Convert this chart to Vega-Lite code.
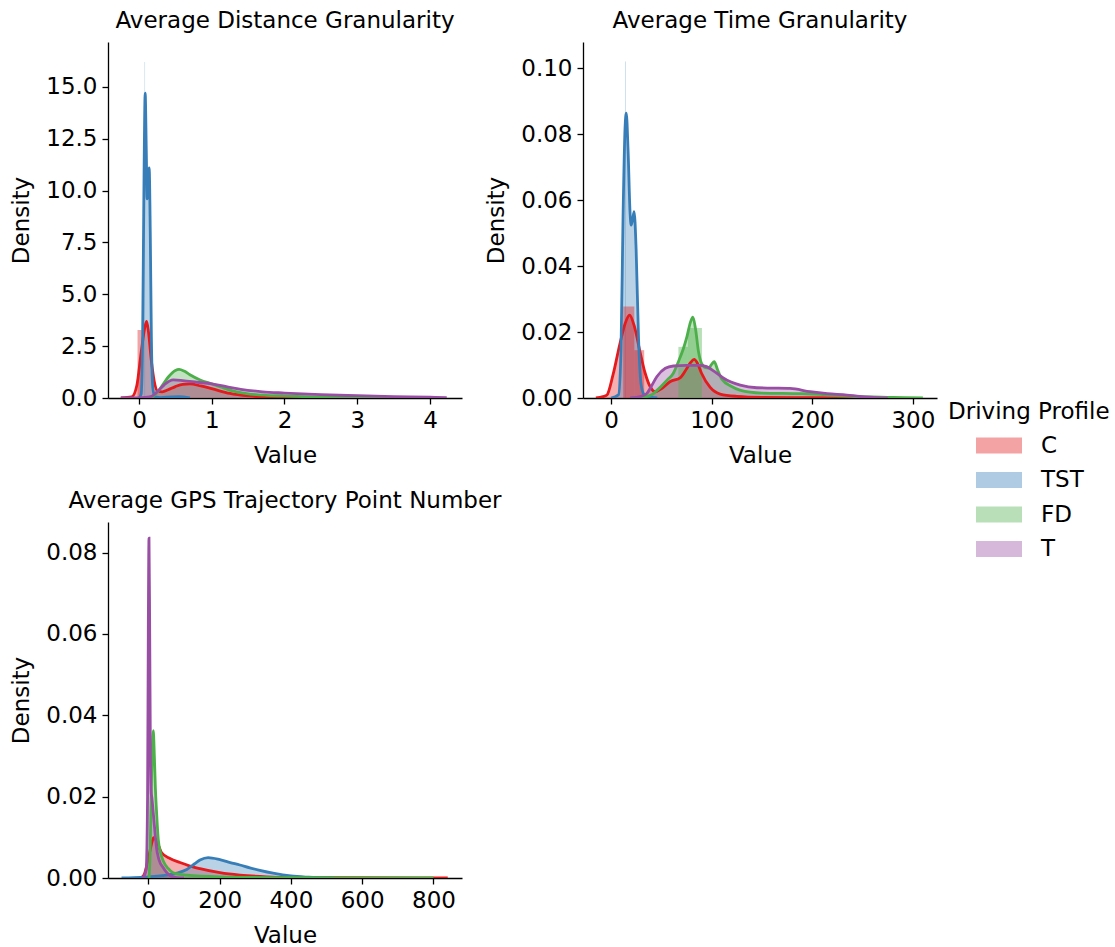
{
  "$schema": "https://vega.github.io/schema/vega-lite/v6.json",
  "padding": {"left": 10, "top": 10, "right": 0, "bottom": 0},
  "background": "white",
  "config": {
    "font": "DejaVu Sans",
    "view": {"stroke": null},
    "axis": {"grid": false, "domainColor": "black", "domainWidth": 1.3, "tickColor": "black", "tickWidth": 1.3, "tickSize": 6, "labelFontSize": 23, "titleFontSize": 23, "labelColor": "black", "titleColor": "black", "titleFontWeight": "normal", "labelPadding": 5, "labelFlush": false, "labelOverlap": false},
    "axisY": {"titlePadding": 12},
    "axisX": {"titlePadding": 12},
    "title": {"fontSize": 23, "fontWeight": "normal", "color": "black", "anchor": "middle", "offset": 9},
    "legend": {"labelFontSize": 23, "titleFontSize": 23, "titleFontWeight": "normal", "labelColor": "black", "titleColor": "black"}
  },
  "datasets": {
    "kde": [
      {"p":"D","g":"C","x":-0.25,"y":0},{"p":"D","g":"C","x":-0.1,"y":0.05},{"p":"D","g":"C","x":-0.03,"y":0.6},{"p":"D","g":"C","x":0.03,"y":2.2},{"p":"D","g":"C","x":0.08,"y":3.4},{"p":"D","g":"C","x":0.105,"y":3.7},{"p":"D","g":"C","x":0.13,"y":3.2},{"p":"D","g":"C","x":0.17,"y":1.8},{"p":"D","g":"C","x":0.21,"y":0.8},{"p":"D","g":"C","x":0.26,"y":0.32},{"p":"D","g":"C","x":0.32,"y":0.3},{"p":"D","g":"C","x":0.4,"y":0.4},{"p":"D","g":"C","x":0.5,"y":0.55},{"p":"D","g":"C","x":0.6,"y":0.66},{"p":"D","g":"C","x":0.7,"y":0.68},{"p":"D","g":"C","x":0.85,"y":0.58},{"p":"D","g":"C","x":1.0,"y":0.45},{"p":"D","g":"C","x":1.25,"y":0.22},{"p":"D","g":"C","x":1.5,"y":0.1},{"p":"D","g":"C","x":1.75,"y":0.04},{"p":"D","g":"C","x":2.0,"y":0.02},{"p":"D","g":"C","x":2.5,"y":0.01},{"p":"D","g":"C","x":3.0,"y":0},
      {"p":"D","g":"TST","x":0.0,"y":0},{"p":"D","g":"TST","x":0.03,"y":0.2},{"p":"D","g":"TST","x":0.05,"y":3},{"p":"D","g":"TST","x":0.07,"y":11},{"p":"D","g":"TST","x":0.085,"y":14.7},{"p":"D","g":"TST","x":0.1,"y":12},{"p":"D","g":"TST","x":0.112,"y":9.6},{"p":"D","g":"TST","x":0.125,"y":10.5},{"p":"D","g":"TST","x":0.14,"y":11.1},{"p":"D","g":"TST","x":0.155,"y":8},{"p":"D","g":"TST","x":0.17,"y":3},{"p":"D","g":"TST","x":0.19,"y":0.5},{"p":"D","g":"TST","x":0.22,"y":0.05},{"p":"D","g":"TST","x":0.3,"y":0.02},{"p":"D","g":"TST","x":0.45,"y":0.05},{"p":"D","g":"TST","x":0.55,"y":0.06},{"p":"D","g":"TST","x":0.7,"y":0},
      {"p":"D","g":"FD","x":0.1,"y":0},{"p":"D","g":"FD","x":0.2,"y":0.1},{"p":"D","g":"FD","x":0.3,"y":0.5},{"p":"D","g":"FD","x":0.4,"y":1.0},{"p":"D","g":"FD","x":0.5,"y":1.33},{"p":"D","g":"FD","x":0.55,"y":1.38},{"p":"D","g":"FD","x":0.62,"y":1.3},{"p":"D","g":"FD","x":0.7,"y":1.12},{"p":"D","g":"FD","x":0.84,"y":0.87},{"p":"D","g":"FD","x":1.0,"y":0.68},{"p":"D","g":"FD","x":1.11,"y":0.55},{"p":"D","g":"FD","x":1.3,"y":0.33},{"p":"D","g":"FD","x":1.53,"y":0.19},{"p":"D","g":"FD","x":1.75,"y":0.13},{"p":"D","g":"FD","x":1.98,"y":0.1},{"p":"D","g":"FD","x":2.5,"y":0.04},{"p":"D","g":"FD","x":3.0,"y":0.01},{"p":"D","g":"FD","x":3.5,"y":0},
      {"p":"D","g":"T","x":-0.25,"y":0},{"p":"D","g":"T","x":0.0,"y":0.01},{"p":"D","g":"T","x":0.15,"y":0.05},{"p":"D","g":"T","x":0.25,"y":0.3},{"p":"D","g":"T","x":0.35,"y":0.65},{"p":"D","g":"T","x":0.47,"y":0.87},{"p":"D","g":"T","x":0.6,"y":0.84},{"p":"D","g":"T","x":0.8,"y":0.76},{"p":"D","g":"T","x":1.0,"y":0.68},{"p":"D","g":"T","x":1.2,"y":0.55},{"p":"D","g":"T","x":1.4,"y":0.42},{"p":"D","g":"T","x":1.7,"y":0.3},{"p":"D","g":"T","x":2.0,"y":0.24},{"p":"D","g":"T","x":2.5,"y":0.16},{"p":"D","g":"T","x":3.0,"y":0.11},{"p":"D","g":"T","x":3.5,"y":0.07},{"p":"D","g":"T","x":4.0,"y":0.04},{"p":"D","g":"T","x":4.23,"y":0.02},

      {"p":"T","g":"C","x":-15,"y":0},{"p":"T","g":"C","x":-8,"y":0.0004},{"p":"T","g":"C","x":-4,"y":0.0009},{"p":"T","g":"C","x":2,"y":0.007},{"p":"T","g":"C","x":9,"y":0.0166},{"p":"T","g":"C","x":14,"y":0.0225},{"p":"T","g":"C","x":18.5,"y":0.0251},{"p":"T","g":"C","x":23,"y":0.022},{"p":"T","g":"C","x":29,"y":0.0138},{"p":"T","g":"C","x":34,"y":0.0075},{"p":"T","g":"C","x":39,"y":0.0034},{"p":"T","g":"C","x":44,"y":0.0019},{"p":"T","g":"C","x":50,"y":0.0028},{"p":"T","g":"C","x":59,"y":0.005},{"p":"T","g":"C","x":69,"y":0.0062},{"p":"T","g":"C","x":75,"y":0.0088},{"p":"T","g":"C","x":79,"y":0.0107},{"p":"T","g":"C","x":82.7,"y":0.0117},{"p":"T","g":"C","x":86,"y":0.0105},{"p":"T","g":"C","x":90,"y":0.0075},{"p":"T","g":"C","x":98.6,"y":0.0032},{"p":"T","g":"C","x":108.5,"y":0.0012},{"p":"T","g":"C","x":125,"y":0.0005},{"p":"T","g":"C","x":150,"y":0.0002},{"p":"T","g":"C","x":200,"y":0.0001},{"p":"T","g":"C","x":250,"y":0},
      {"p":"T","g":"TST","x":0,"y":0},{"p":"T","g":"TST","x":7.5,"y":0.001},{"p":"T","g":"TST","x":10,"y":0.015},{"p":"T","g":"TST","x":12,"y":0.055},{"p":"T","g":"TST","x":14,"y":0.082},{"p":"T","g":"TST","x":15.2,"y":0.0863},{"p":"T","g":"TST","x":17,"y":0.075},{"p":"T","g":"TST","x":19,"y":0.056},{"p":"T","g":"TST","x":20,"y":0.0524},{"p":"T","g":"TST","x":21.5,"y":0.054},{"p":"T","g":"TST","x":23,"y":0.0565},{"p":"T","g":"TST","x":25,"y":0.045},{"p":"T","g":"TST","x":27.4,"y":0.018},{"p":"T","g":"TST","x":30,"y":0.004},{"p":"T","g":"TST","x":33,"y":0.001},{"p":"T","g":"TST","x":40,"y":0.0002},{"p":"T","g":"TST","x":46,"y":0},
      {"p":"T","g":"FD","x":20,"y":0},{"p":"T","g":"FD","x":30,"y":0.0002},{"p":"T","g":"FD","x":40,"y":0.0009},{"p":"T","g":"FD","x":46,"y":0.0024},{"p":"T","g":"FD","x":56,"y":0.0055},{"p":"T","g":"FD","x":62,"y":0.0075},{"p":"T","g":"FD","x":67,"y":0.011},{"p":"T","g":"FD","x":72,"y":0.015},{"p":"T","g":"FD","x":75.5,"y":0.0186},{"p":"T","g":"FD","x":79,"y":0.023},{"p":"T","g":"FD","x":81.4,"y":0.0245},{"p":"T","g":"FD","x":84,"y":0.021},{"p":"T","g":"FD","x":87,"y":0.014},{"p":"T","g":"FD","x":90,"y":0.0105},{"p":"T","g":"FD","x":94,"y":0.0092},{"p":"T","g":"FD","x":97,"y":0.0091},{"p":"T","g":"FD","x":100,"y":0.0102},{"p":"T","g":"FD","x":102.6,"y":0.011},{"p":"T","g":"FD","x":106,"y":0.0085},{"p":"T","g":"FD","x":110,"y":0.0058},{"p":"T","g":"FD","x":120,"y":0.0035},{"p":"T","g":"FD","x":128,"y":0.0024},{"p":"T","g":"FD","x":150,"y":0.0015},{"p":"T","g":"FD","x":190,"y":0.0013},{"p":"T","g":"FD","x":240,"y":0.0005},{"p":"T","g":"FD","x":280,"y":0.0002},{"p":"T","g":"FD","x":310,"y":0},
      {"p":"T","g":"T","x":19,"y":0},{"p":"T","g":"T","x":30,"y":0.0005},{"p":"T","g":"T","x":35.7,"y":0.0014},{"p":"T","g":"T","x":40,"y":0.0035},{"p":"T","g":"T","x":45.7,"y":0.0065},{"p":"T","g":"T","x":54,"y":0.009},{"p":"T","g":"T","x":62,"y":0.0097},{"p":"T","g":"T","x":75,"y":0.0099},{"p":"T","g":"T","x":88,"y":0.0099},{"p":"T","g":"T","x":95,"y":0.0095},{"p":"T","g":"T","x":103,"y":0.008},{"p":"T","g":"T","x":112,"y":0.006},{"p":"T","g":"T","x":128.5,"y":0.0039},{"p":"T","g":"T","x":145,"y":0.0031},{"p":"T","g":"T","x":160,"y":0.003},{"p":"T","g":"T","x":178,"y":0.0029},{"p":"T","g":"T","x":198,"y":0.0019},{"p":"T","g":"T","x":215,"y":0.0013},{"p":"T","g":"T","x":234.5,"y":0.0009},{"p":"T","g":"T","x":247,"y":0.0005},{"p":"T","g":"T","x":264,"y":0.0001},{"p":"T","g":"T","x":275,"y":0},

      {"p":"G","g":"C","x":-25,"y":0},{"p":"G","g":"C","x":-18,"y":0.0002},{"p":"G","g":"C","x":-10,"y":0.0012},{"p":"G","g":"C","x":-4.5,"y":0.003},{"p":"G","g":"C","x":3,"y":0.006},{"p":"G","g":"C","x":9.5,"y":0.0085},{"p":"G","g":"C","x":15,"y":0.0099},{"p":"G","g":"C","x":22,"y":0.0093},{"p":"G","g":"C","x":30,"y":0.0077},{"p":"G","g":"C","x":37.5,"y":0.0062},{"p":"G","g":"C","x":61,"y":0.0048},{"p":"G","g":"C","x":89,"y":0.0038},{"p":"G","g":"C","x":115,"y":0.003},{"p":"G","g":"C","x":145,"y":0.0023},{"p":"G","g":"C","x":201,"y":0.0013},{"p":"G","g":"C","x":257,"y":0.0007},{"p":"G","g":"C","x":332,"y":0.0003},{"p":"G","g":"C","x":400,"y":0.00015},{"p":"G","g":"C","x":600,"y":0.00006},{"p":"G","g":"C","x":800,"y":0.00003},{"p":"G","g":"C","x":840,"y":0},
      {"p":"G","g":"TST","x":-75,"y":0},{"p":"G","g":"TST","x":-40,"y":0.0001},{"p":"G","g":"TST","x":0,"y":0.0003},{"p":"G","g":"TST","x":40,"y":0.0006},{"p":"G","g":"TST","x":80,"y":0.0012},{"p":"G","g":"TST","x":108,"y":0.0021},{"p":"G","g":"TST","x":130,"y":0.0035},{"p":"G","g":"TST","x":145,"y":0.0044},{"p":"G","g":"TST","x":168,"y":0.005},{"p":"G","g":"TST","x":201,"y":0.0045},{"p":"G","g":"TST","x":230,"y":0.0038},{"p":"G","g":"TST","x":257,"y":0.0032},{"p":"G","g":"TST","x":285,"y":0.0025},{"p":"G","g":"TST","x":313,"y":0.0019},{"p":"G","g":"TST","x":350,"y":0.0012},{"p":"G","g":"TST","x":400,"y":0.0005},{"p":"G","g":"TST","x":450,"y":0.0002},{"p":"G","g":"TST","x":520,"y":0},
      {"p":"G","g":"FD","x":2,"y":0},{"p":"G","g":"FD","x":5,"y":0.006},{"p":"G","g":"FD","x":7,"y":0.015},{"p":"G","g":"FD","x":10,"y":0.028},{"p":"G","g":"FD","x":14,"y":0.0362},{"p":"G","g":"FD","x":17,"y":0.03},{"p":"G","g":"FD","x":20,"y":0.022},{"p":"G","g":"FD","x":24,"y":0.015},{"p":"G","g":"FD","x":28,"y":0.0095},{"p":"G","g":"FD","x":35,"y":0.006},{"p":"G","g":"FD","x":42,"y":0.0042},{"p":"G","g":"FD","x":55,"y":0.0024},{"p":"G","g":"FD","x":70,"y":0.0013},{"p":"G","g":"FD","x":108,"y":0.0007},{"p":"G","g":"FD","x":200,"y":0.0003},{"p":"G","g":"FD","x":400,"y":0.0001},{"p":"G","g":"FD","x":600,"y":0.00005},{"p":"G","g":"FD","x":800,"y":0},
      {"p":"G","g":"T","x":-15,"y":0},{"p":"G","g":"T","x":-6,"y":0.002},{"p":"G","g":"T","x":-2,"y":0.02},{"p":"G","g":"T","x":0,"y":0.06},{"p":"G","g":"T","x":2,"y":0.0835},{"p":"G","g":"T","x":4,"y":0.06},{"p":"G","g":"T","x":6,"y":0.03},{"p":"G","g":"T","x":8,"y":0.021},{"p":"G","g":"T","x":10,"y":0.0198},{"p":"G","g":"T","x":14,"y":0.016},{"p":"G","g":"T","x":18,"y":0.012},{"p":"G","g":"T","x":23,"y":0.0075},{"p":"G","g":"T","x":30,"y":0.0045},{"p":"G","g":"T","x":42,"y":0.0025},{"p":"G","g":"T","x":61,"y":0.0006},{"p":"G","g":"T","x":80,"y":0.0001},{"p":"G","g":"T","x":100,"y":0}
    ],
    "hist": [
      {"p":"D","g":"C","x0":-0.02,"x1":0.037,"h":3.28},
      {"p":"D","g":"TST","x0":0.077,"x1":0.083,"h":16.2},
      {"p":"T","g":"TST","x0":14.3,"x1":14.9,"h":0.102},
      {"p":"T","g":"C","x0":12.2,"x1":23.2,"h":0.0277},
      {"p":"T","g":"C","x0":23.2,"x1":33,"h":0.0145},
      {"p":"T","g":"FD","x0":76.5,"x1":90.4,"h":0.0212},
      {"p":"T","g":"FD","x0":67,"x1":76.5,"h":0.0155}
    ]
  },
  "columns": 2,
  "bounds": "flush",
  "spacing": {"column": 121, "row": 124},
  "concat": [
    {
      "title": "Average Distance Granularity",
      "width": 354, "height": 356,
      "layer": [
        {
          "data": {"name": "kde"},
          "transform": [{"filter": "datum.p === 'D'"}],
          "mark": {"type": "area", "opacity": 0.35, "clip": true, "interpolate": "monotone"},
          "encoding": {
            "x": {"field": "x", "type": "quantitative", "title": "Value", "scale": {"domain": [-0.426, 4.44], "nice": false, "zero": false}, "axis": {"values": [0, 1, 2, 3, 4], "format": "d"}},
            "y": {"field": "y", "type": "quantitative", "title": "Density", "stack": null, "scale": {"domain": [0, 17.17], "nice": false}, "axis": {"values": [0, 2.5, 5, 7.5, 10, 12.5, 15], "format": ".1f"}},
            "color": {"field": "g", "type": "nominal", "scale": {"domain": ["C", "TST", "FD", "T"], "range": ["#e41a1c", "#377eb8", "#4daf4a", "#984ea3"]}, "legend": {"title": "Driving Profile", "orient": "none", "legendX": 840, "legendY": 359, "symbolType": "M1.435,-0.696L5.435,-0.696L5.435,0.696L1.435,0.696Z", "symbolSize": 529, "symbolOpacity": 0.4, "symbolStrokeWidth": 0, "labelOffset": 70, "rowPadding": 10.5, "titlePadding": 10, "padding": 0}}
          }
        },
        {
          "data": {"name": "hist"},
          "transform": [{"filter": "datum.p === 'D'"}],
          "mark": {"type": "rect", "opacity": 0.4, "clip": true},
          "encoding": {
            "x": {"field": "x0", "type": "quantitative"},
            "x2": {"field": "x1"},
            "y": {"field": "h", "type": "quantitative"},
            "y2": {"datum": 0},
            "color": {"field": "g", "type": "nominal", "legend": null}
          }
        },
        {
          "data": {"name": "kde"},
          "transform": [{"filter": "datum.p === 'D'"}],
          "mark": {"type": "line", "strokeWidth": 2.8, "clip": true, "interpolate": "monotone"},
          "encoding": {
            "x": {"field": "x", "type": "quantitative"},
            "y": {"field": "y", "type": "quantitative"},
            "color": {"field": "g", "type": "nominal", "legend": null}
          }
        }
      ]
    },
    {
      "title": "Average Time Granularity",
      "width": 354, "height": 356,
      "layer": [
        {
          "data": {"name": "kde"},
          "transform": [{"filter": "datum.p === 'T'"}],
          "mark": {"type": "area", "opacity": 0.35, "clip": true, "interpolate": "monotone"},
          "encoding": {
            "x": {"field": "x", "type": "quantitative", "title": "Value", "scale": {"domain": [-27.8, 324], "nice": false, "zero": false}, "axis": {"values": [0, 100, 200, 300], "format": "d"}},
            "y": {"field": "y", "type": "quantitative", "title": "Density", "stack": null, "scale": {"domain": [0, 0.1079], "nice": false}, "axis": {"values": [0, 0.02, 0.04, 0.06, 0.08, 0.1], "format": ".2f"}},
            "color": {"field": "g", "type": "nominal", "legend": null}
          }
        },
        {
          "data": {"name": "hist"},
          "transform": [{"filter": "datum.p === 'T'"}],
          "mark": {"type": "rect", "opacity": 0.4, "clip": true},
          "encoding": {
            "x": {"field": "x0", "type": "quantitative"},
            "x2": {"field": "x1"},
            "y": {"field": "h", "type": "quantitative"},
            "y2": {"datum": 0},
            "color": {"field": "g", "type": "nominal", "legend": null}
          }
        },
        {
          "data": {"name": "kde"},
          "transform": [{"filter": "datum.p === 'T'"}],
          "mark": {"type": "line", "strokeWidth": 2.8, "clip": true, "interpolate": "monotone"},
          "encoding": {
            "x": {"field": "x", "type": "quantitative"},
            "y": {"field": "y", "type": "quantitative"},
            "color": {"field": "g", "type": "nominal", "legend": null}
          }
        }
      ]
    },
    {
      "title": "Average GPS Trajectory Point Number",
      "width": 354, "height": 356,
      "layer": [
        {
          "data": {"name": "kde"},
          "transform": [{"filter": "datum.p === 'G'"}],
          "mark": {"type": "area", "opacity": 0.35, "clip": true, "interpolate": "monotone"},
          "encoding": {
            "x": {"field": "x", "type": "quantitative", "title": "Value", "scale": {"domain": [-113, 880], "nice": false, "zero": false}, "axis": {"values": [0, 200, 400, 600, 800], "format": "d"}},
            "y": {"field": "y", "type": "quantitative", "title": "Density", "stack": null, "scale": {"domain": [0, 0.0875], "nice": false}, "axis": {"values": [0, 0.02, 0.04, 0.06, 0.08], "format": ".2f"}},
            "color": {"field": "g", "type": "nominal", "legend": null}
          }
        },
        {
          "data": {"name": "kde"},
          "transform": [{"filter": "datum.p === 'G'"}],
          "mark": {"type": "line", "strokeWidth": 2.8, "clip": true, "interpolate": "monotone"},
          "encoding": {
            "x": {"field": "x", "type": "quantitative"},
            "y": {"field": "y", "type": "quantitative"},
            "color": {"field": "g", "type": "nominal", "legend": null}
          }
        }
      ]
    }
  ]
}
